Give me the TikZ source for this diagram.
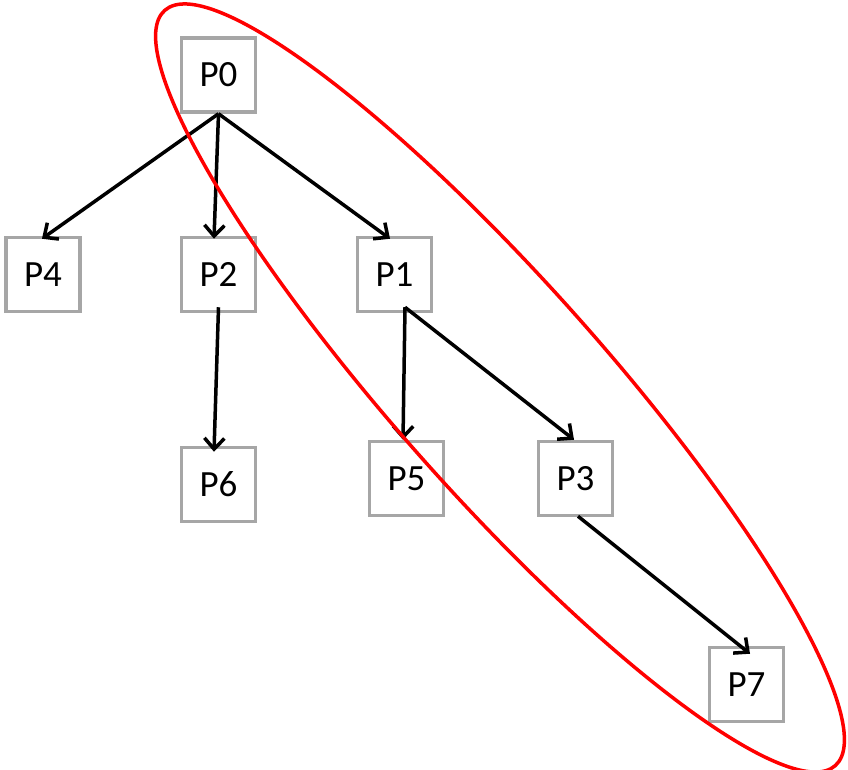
\documentclass[tikz,border=0pt]{standalone}
\usepackage{fontspec}
\setmainfont{Carlito}
\usetikzlibrary{arrows.meta}
\definecolor{boxgray}{RGB}{166,166,166}
\definecolor{ellred}{RGB}{255,0,0}
\begin{document}
\begin{tikzpicture}[x=1pt,y=-1pt,
  pbox/.style={draw=boxgray,line width=3.5pt,minimum width=74pt,minimum height=74pt,inner sep=0pt,font=\fontsize{37}{42}\selectfont},
  edge/.style={line width=3.5pt,-{Straight Barb[length=11pt,width=20pt,line width=3.5pt]}}]
\useasboundingbox (0,0) rectangle (848,770);
\node[pbox] (p0) at (218.5,75) {P0};
\node[pbox] (p4) at (43,274.5) {P4};
\node[pbox] (p2) at (218.5,274.5) {P2};
\node[pbox] (p1) at (394.5,274.5) {P1};
\node[pbox] (p6) at (218.5,484.5) {P6};
\node[pbox] (p5) at (406.5,478.5) {P5};
\node[pbox] (p3) at (575.5,478.5) {P3};
\node[pbox] (p7) at (746.5,684.5) {P7};
\draw[edge] (p0.south) -- ([xshift=-1pt,yshift=-3pt]p4.north);
\draw[edge] (p0.south) -- ([xshift=-4.5pt,yshift=-3pt]p2.north);
\draw[edge] (p0.south) -- ([xshift=-4.5pt,yshift=-3pt]p1.north);
\draw[edge] ([yshift=6pt]p2.south) -- ([xshift=-4.5pt,yshift=-6pt]p6.north);
\draw[edge] ([xshift=10.5pt,yshift=6pt]p1.south) -- ([xshift=-3.5pt,yshift=0pt]p5.north);
\draw[edge] ([xshift=10.5pt,yshift=6pt]p1.south) -- ([xshift=-1.5pt,yshift=0pt]p3.north);
\draw[edge] ([xshift=2.5pt,yshift=1pt]p3.south) -- ([xshift=3.5pt,yshift=-8pt]p7.north);
\draw[ellred,line width=3.5pt,rotate around={-48.4:(500,388)}] (500,388) ellipse [x radius=505, y radius=105];
\end{tikzpicture}
\end{document}
